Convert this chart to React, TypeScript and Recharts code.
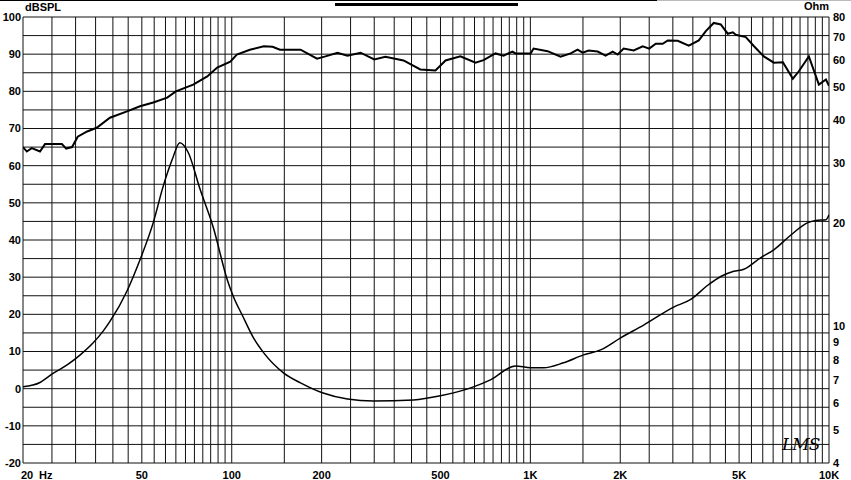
import { ComposedChart, Line, XAxis, YAxis, CartesianGrid } from "recharts";

// SPL curve (dB)
const splFreq = [
  20, 20.6, 21.4, 22.8, 23.7, 27, 27.9, 29.2, 30.5, 32.8, 35.3, 39.1, 44.6, 49.3, 54.6, 60.8, 65, 74.3, 82.8, 89.4,
  98.9, 104, 115, 128, 137, 145, 170, 193, 206, 226, 244, 270, 300, 327, 376, 428, 481, 520, 583, 655,
  697, 764, 813, 871, 891, 1002, 1025, 1142, 1262, 1364, 1439, 1496, 1567, 1680, 1786, 1886, 1960, 2053, 2218, 2378,
  2500, 2629, 2774, 2884, 3115, 3392, 3664, 3868, 4112, 4341, 4581, 4764, 4876, 5266, 5600, 6050, 6535, 7008, 7568, 7926,
  8562, 9250, 9766, 10000,
];
const splDb = [
  65, 63.8, 64.7, 63.8, 65.8, 65.8, 64.6, 65, 67.8, 69.2, 70.2, 72.9, 74.6, 76, 77, 78.3, 80, 81.8, 84, 86.4,
  88, 89.9, 91.2, 92.1, 92, 91.2, 91.2, 88.8, 89.4, 90.4, 89.6, 90.4, 88.6, 89.3, 88.3, 85.9, 85.6, 88.3, 89.4, 87.7,
  88.4, 90.2, 89.6, 90.7, 90.2, 90.2, 91.5, 90.8, 89.3, 90.2, 91.2, 90.4, 91, 90.7, 89.6, 90.7, 89.9, 91.5, 91, 92.1,
  91.5, 92.8, 92.8, 93.7, 93.6, 92.3, 93.7, 96.2, 98.4, 98, 95.5, 95.9, 95.2, 94.6, 92.2, 89.4, 87.7, 87.8, 83.4, 85.4,
  89.4, 81.8, 83.2, 81.5,
];

// impedance curve (Ohm)
const zFreq = [
  20, 22.8, 25.2, 28.1, 31.1, 34.3, 37.1, 39.1, 44.6, 49.3, 54.6, 58.9, 63.2, 67, 71.5, 78.4, 86.7, 96.6, 101, 109,
  118, 128, 149, 170, 201, 244, 298, 406, 500, 645, 735, 891, 1002, 1107, 1291, 1507, 1718, 2006, 2395, 3020,
  3444, 3927, 4341, 4799, 5185, 5913, 6535, 7452, 8498, 9038, 9766, 10000,
];
const zOhm = [
  6.67, 6.87, 7.3, 7.73, 8.27, 8.95, 9.7, 10.35, 12.7, 15.66, 20.1, 25.6, 30.7, 34.4, 32.2, 25.1, 19.5, 13.7, 12.3, 10.7,
  9.3, 8.38, 7.33, 6.85, 6.41, 6.15, 6.07, 6.11, 6.28, 6.67, 6.99, 7.68, 7.58, 7.58, 7.84, 8.27, 8.55, 9.27, 10.1, 11.4,
  12.0, 13.2, 14.0, 14.5, 14.7, 15.9, 16.75, 18.5, 20.1, 20.4, 20.5, 21.2,
];

const freqTicks = [
  20, 25, 30, 35, 40, 45, 50, 55, 60, 65, 70, 75, 80, 85, 90, 95, 100,
  150, 200, 250, 300, 350, 400, 450, 500, 550, 600, 650, 700, 750, 800, 850, 900, 950, 1000,
  1500, 2000, 2500, 3000, 3500, 4000, 4500, 5000, 5500, 6000, 6500, 7000, 7500, 8000, 8500, 9000, 9500, 10000,
];
const freqLabels: Record<number, string> = {
  50: "50", 100: "100", 200: "200", 500: "500", 1000: "1K", 2000: "2K", 5000: "5K", 10000: "10K",
};
const dbTicks = [-20, -15, -10, -5, 0, 5, 10, 15, 20, 25, 30, 35, 40, 45, 50, 55, 60, 65, 70, 75, 80, 85, 90, 95, 100];
const ohmTicks = [4, 5, 6, 7, 8, 9, 10, 20, 30, 40, 50, 60, 70, 80];

const splData = splFreq.map((f, i) => ({ f, db: splDb[i] }));
const zData = zFreq.map((f, i) => ({ f, z: zOhm[i] }));

const font = "'Liberation Sans', Arial, sans-serif";
const tickStyle = { fontSize: 11, fontWeight: 700, fill: "#000", fontFamily: font };

function FreqTick(props: any) {
  const { x, y, payload } = props;
  if (payload.value === 20) {
    return (
      <g>
        <text x={x - 2} y={y + 14} textAnchor="start" {...tickStyle}>20</text>
        <text x={x + 16} y={y + 14} textAnchor="start" {...tickStyle}>Hz</text>
      </g>
    );
  }
  const label = freqLabels[payload.value];
  if (!label) return <g />;
  return (
    <text x={x} y={y + 14} textAnchor="middle" {...tickStyle}>{label}</text>
  );
}

export default function App() {
  return (
    <div style={{ position: "absolute", left: 0, top: 0, width: 851, height: 480, background: "#fff", overflow: "hidden" }}>
      <div style={{ position: "absolute", left: 0, top: 0, width: 657, height: 1, background: "#000" }} />
      <div style={{ position: "absolute", left: 657, top: 0, width: 194, height: 1, background: "#bbb" }} />
      <div style={{ position: "absolute", left: 335, top: 3, width: 183, height: 3, background: "#000" }} />
      <div style={{ position: "absolute", left: 25, top: 1, fontFamily: font, fontSize: 11, fontWeight: 700 }}>dBSPL</div>
      <div style={{ position: "absolute", right: 22, top: 0, fontFamily: font, fontSize: 11, fontWeight: 700 }}>Ohm</div>
      <div style={{ position: "absolute", left: 782, top: 434, fontFamily: "'DejaVu Serif', serif", fontSize: 17, fontStyle: "italic", letterSpacing: -1 }}>LMS</div>
      <ComposedChart width={851} height={480} margin={{ top: 17, right: 0, bottom: 0, left: 0 }}>
        <CartesianGrid yAxisId="spl" stroke="#111" strokeWidth={1} />
        <XAxis
          dataKey="f"
          type="number"
          scale="log"
          domain={[20, 10000]}
          ticks={freqTicks}
          interval={0}
          allowDataOverflow
          axisLine={false}
          tickLine={false}
          tickSize={0}
          height={17}
          tick={<FreqTick />}
        />
        <YAxis
          yAxisId="spl"
          type="number"
          domain={[-20, 100]}
          ticks={dbTicks}
          interval={0}
          allowDataOverflow
          width={23}
          axisLine={false}
          tickLine={false}
          tickSize={0}
          tickMargin={2}
          tick={tickStyle}
          tickFormatter={(v: number) => (v % 10 === 0 ? String(v) : "")}
        />
        <YAxis
          yAxisId="z"
          orientation="right"
          type="number"
          scale="log"
          domain={[4, 80]}
          ticks={ohmTicks}
          interval={0}
          allowDataOverflow
          width={22}
          axisLine={false}
          tickLine={false}
          tickSize={0}
          tickMargin={4}
          tick={tickStyle}
        />
        <Line data={splData} dataKey="db" yAxisId="spl" type="linear" stroke="#000" strokeWidth={2} dot={false} isAnimationActive={false} />
        <Line data={zData} dataKey="z" yAxisId="z" type="monotone" stroke="#000" strokeWidth={1.5} dot={false} isAnimationActive={false} />
      </ComposedChart>
    </div>
  );
}
